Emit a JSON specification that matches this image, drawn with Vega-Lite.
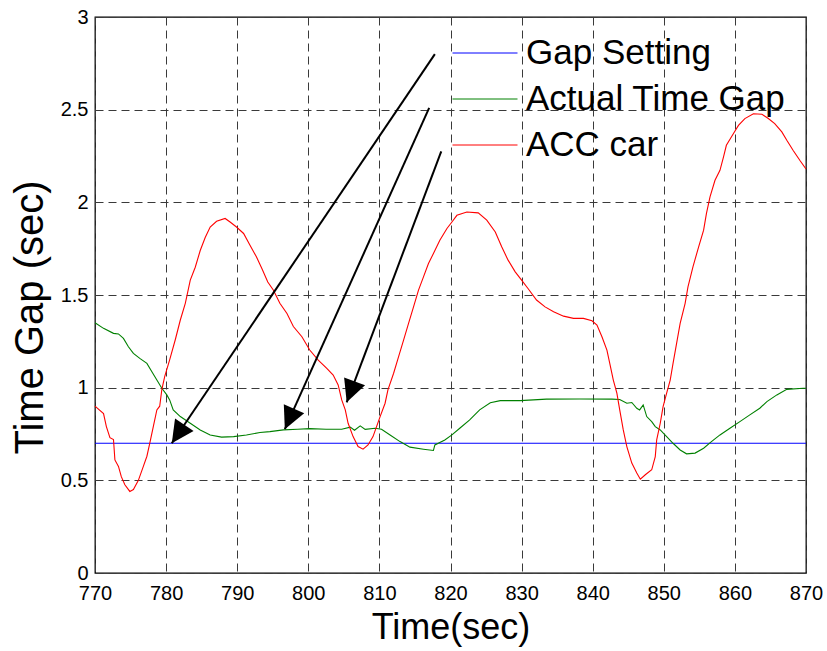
{
  "$schema": "https://vega.github.io/schema/vega-lite/v6.json",
  "width": 711,
  "height": 556,
  "autosize": {"type": "none"},
  "padding": {"left": 95, "top": 17, "right": 21, "bottom": 78},
  "background": "white",
  "config": {
    "view": {"stroke": "black", "strokeWidth": 1.3},
    "font": "Liberation Sans",
    "axis": {
      "grid": true,
      "gridDash": [8, 5],
      "gridColor": "#3a3a3a",
      "gridOpacity": 1,
      "gridWidth": 1,
      "domain": false,
      "ticks": false,
      "labelFont": "Liberation Sans",
      "labelFontSize": 20,
      "labelColor": "black",
      "labelFlush": false,
      "labelOverlap": false,
      "titleFont": "Liberation Sans",
      "titleFontWeight": "normal",
      "titleColor": "black"
    }
  },
  "datasets": {
    "lines": [
      {"s": "Gap Setting", "t": 770, "v": 0.7},
      {"s": "Gap Setting", "t": 870, "v": 0.7},

      {"s": "Actual Time Gap", "t": 770, "v": 1.35},
      {"s": "Actual Time Gap", "t": 771.2, "v": 1.32},
      {"s": "Actual Time Gap", "t": 772.6, "v": 1.293},
      {"s": "Actual Time Gap", "t": 773.3, "v": 1.29},
      {"s": "Actual Time Gap", "t": 774.0, "v": 1.266},
      {"s": "Actual Time Gap", "t": 774.7, "v": 1.221},
      {"s": "Actual Time Gap", "t": 775.4, "v": 1.185},
      {"s": "Actual Time Gap", "t": 776.3, "v": 1.158},
      {"s": "Actual Time Gap", "t": 777.3, "v": 1.131},
      {"s": "Actual Time Gap", "t": 778.0, "v": 1.086},
      {"s": "Actual Time Gap", "t": 778.7, "v": 1.041},
      {"s": "Actual Time Gap", "t": 779.4, "v": 0.997},
      {"s": "Actual Time Gap", "t": 780.1, "v": 0.961},
      {"s": "Actual Time Gap", "t": 780.5, "v": 0.934},
      {"s": "Actual Time Gap", "t": 781.0, "v": 0.88},
      {"s": "Actual Time Gap", "t": 782.0, "v": 0.844},
      {"s": "Actual Time Gap", "t": 783.4, "v": 0.808},
      {"s": "Actual Time Gap", "t": 784.8, "v": 0.772},
      {"s": "Actual Time Gap", "t": 786.2, "v": 0.745},
      {"s": "Actual Time Gap", "t": 787.8, "v": 0.733},
      {"s": "Actual Time Gap", "t": 789.5, "v": 0.736},
      {"s": "Actual Time Gap", "t": 791.3, "v": 0.745},
      {"s": "Actual Time Gap", "t": 793.2, "v": 0.758},
      {"s": "Actual Time Gap", "t": 794.6, "v": 0.763},
      {"s": "Actual Time Gap", "t": 796.5, "v": 0.772},
      {"s": "Actual Time Gap", "t": 798.5, "v": 0.776},
      {"s": "Actual Time Gap", "t": 800.2, "v": 0.779},
      {"s": "Actual Time Gap", "t": 802.5, "v": 0.776},
      {"s": "Actual Time Gap", "t": 804.7, "v": 0.776},
      {"s": "Actual Time Gap", "t": 805.9, "v": 0.787},
      {"s": "Actual Time Gap", "t": 806.5, "v": 0.77},
      {"s": "Actual Time Gap", "t": 807.3, "v": 0.794},
      {"s": "Actual Time Gap", "t": 808.0, "v": 0.775},
      {"s": "Actual Time Gap", "t": 809.4, "v": 0.781},
      {"s": "Actual Time Gap", "t": 810.3, "v": 0.776},
      {"s": "Actual Time Gap", "t": 811.5, "v": 0.745},
      {"s": "Actual Time Gap", "t": 812.9, "v": 0.709},
      {"s": "Actual Time Gap", "t": 814.3, "v": 0.679},
      {"s": "Actual Time Gap", "t": 816.2, "v": 0.668},
      {"s": "Actual Time Gap", "t": 817.6, "v": 0.661},
      {"s": "Actual Time Gap", "t": 817.8, "v": 0.691},
      {"s": "Actual Time Gap", "t": 819.2, "v": 0.718},
      {"s": "Actual Time Gap", "t": 820.2, "v": 0.745},
      {"s": "Actual Time Gap", "t": 821.3, "v": 0.781},
      {"s": "Actual Time Gap", "t": 822.7, "v": 0.826},
      {"s": "Actual Time Gap", "t": 824.1, "v": 0.88},
      {"s": "Actual Time Gap", "t": 825.6, "v": 0.919},
      {"s": "Actual Time Gap", "t": 827.0, "v": 0.93},
      {"s": "Actual Time Gap", "t": 829.8, "v": 0.93},
      {"s": "Actual Time Gap", "t": 833.5, "v": 0.938},
      {"s": "Actual Time Gap", "t": 838.2, "v": 0.939},
      {"s": "Actual Time Gap", "t": 842.7, "v": 0.938},
      {"s": "Actual Time Gap", "t": 843.8, "v": 0.936},
      {"s": "Actual Time Gap", "t": 844.8, "v": 0.916},
      {"s": "Actual Time Gap", "t": 845.5, "v": 0.92},
      {"s": "Actual Time Gap", "t": 846.2, "v": 0.889},
      {"s": "Actual Time Gap", "t": 846.6, "v": 0.88},
      {"s": "Actual Time Gap", "t": 847.1, "v": 0.907},
      {"s": "Actual Time Gap", "t": 847.6, "v": 0.844},
      {"s": "Actual Time Gap", "t": 848.3, "v": 0.817},
      {"s": "Actual Time Gap", "t": 848.8, "v": 0.79},
      {"s": "Actual Time Gap", "t": 849.5, "v": 0.772},
      {"s": "Actual Time Gap", "t": 850.4, "v": 0.736},
      {"s": "Actual Time Gap", "t": 851.3, "v": 0.70},
      {"s": "Actual Time Gap", "t": 852.3, "v": 0.664},
      {"s": "Actual Time Gap", "t": 853.2, "v": 0.643},
      {"s": "Actual Time Gap", "t": 854.4, "v": 0.647},
      {"s": "Actual Time Gap", "t": 855.6, "v": 0.673},
      {"s": "Actual Time Gap", "t": 856.7, "v": 0.709},
      {"s": "Actual Time Gap", "t": 857.9, "v": 0.745},
      {"s": "Actual Time Gap", "t": 859.3, "v": 0.781},
      {"s": "Actual Time Gap", "t": 860.7, "v": 0.817},
      {"s": "Actual Time Gap", "t": 862.1, "v": 0.853},
      {"s": "Actual Time Gap", "t": 863.5, "v": 0.889},
      {"s": "Actual Time Gap", "t": 864.5, "v": 0.925},
      {"s": "Actual Time Gap", "t": 865.9, "v": 0.961},
      {"s": "Actual Time Gap", "t": 867.3, "v": 0.991},
      {"s": "Actual Time Gap", "t": 869.6, "v": 0.997},
      {"s": "Actual Time Gap", "t": 870, "v": 0.997},

      {"s": "ACC car", "t": 770, "v": 0.90},
      {"s": "ACC car", "t": 771.2, "v": 0.86},
      {"s": "ACC car", "t": 771.6, "v": 0.79},
      {"s": "ACC car", "t": 772.1, "v": 0.73},
      {"s": "ACC car", "t": 772.6, "v": 0.72},
      {"s": "ACC car", "t": 772.8, "v": 0.61},
      {"s": "ACC car", "t": 773.3, "v": 0.575},
      {"s": "ACC car", "t": 773.7, "v": 0.52},
      {"s": "ACC car", "t": 774.2, "v": 0.476},
      {"s": "ACC car", "t": 774.9, "v": 0.44},
      {"s": "ACC car", "t": 775.4, "v": 0.45},
      {"s": "ACC car", "t": 776.1, "v": 0.50},
      {"s": "ACC car", "t": 776.8, "v": 0.575},
      {"s": "ACC car", "t": 777.3, "v": 0.63},
      {"s": "ACC car", "t": 777.7, "v": 0.70},
      {"s": "ACC car", "t": 778.2, "v": 0.79},
      {"s": "ACC car", "t": 778.7, "v": 0.88},
      {"s": "ACC car", "t": 779.1, "v": 0.90},
      {"s": "ACC car", "t": 779.4, "v": 0.99},
      {"s": "ACC car", "t": 779.8, "v": 1.06},
      {"s": "ACC car", "t": 780.5, "v": 1.15},
      {"s": "ACC car", "t": 781.3, "v": 1.26},
      {"s": "ACC car", "t": 782.0, "v": 1.365},
      {"s": "ACC car", "t": 782.7, "v": 1.455},
      {"s": "ACC car", "t": 783.4, "v": 1.58},
      {"s": "ACC car", "t": 784.1, "v": 1.65},
      {"s": "ACC car", "t": 784.8, "v": 1.74},
      {"s": "ACC car", "t": 785.5, "v": 1.81},
      {"s": "ACC car", "t": 786.2, "v": 1.867},
      {"s": "ACC car", "t": 787.1, "v": 1.898},
      {"s": "ACC car", "t": 788.3, "v": 1.913},
      {"s": "ACC car", "t": 789.0, "v": 1.894},
      {"s": "ACC car", "t": 789.9, "v": 1.867},
      {"s": "ACC car", "t": 790.9, "v": 1.832},
      {"s": "ACC car", "t": 791.8, "v": 1.769},
      {"s": "ACC car", "t": 792.7, "v": 1.706},
      {"s": "ACC car", "t": 793.5, "v": 1.64},
      {"s": "ACC car", "t": 794.3, "v": 1.57},
      {"s": "ACC car", "t": 795.1, "v": 1.526},
      {"s": "ACC car", "t": 796.0, "v": 1.455},
      {"s": "ACC car", "t": 797.0, "v": 1.40},
      {"s": "ACC car", "t": 797.9, "v": 1.33},
      {"s": "ACC car", "t": 799.1, "v": 1.275},
      {"s": "ACC car", "t": 800.2, "v": 1.203},
      {"s": "ACC car", "t": 801.4, "v": 1.149},
      {"s": "ACC car", "t": 802.6, "v": 1.104},
      {"s": "ACC car", "t": 803.5, "v": 1.068},
      {"s": "ACC car", "t": 804.2, "v": 1.015},
      {"s": "ACC car", "t": 804.7, "v": 0.934},
      {"s": "ACC car", "t": 805.2, "v": 0.88},
      {"s": "ACC car", "t": 805.6, "v": 0.808},
      {"s": "ACC car", "t": 806.3, "v": 0.736},
      {"s": "ACC car", "t": 807.0, "v": 0.682},
      {"s": "ACC car", "t": 807.7, "v": 0.668},
      {"s": "ACC car", "t": 808.4, "v": 0.691},
      {"s": "ACC car", "t": 809.1, "v": 0.736},
      {"s": "ACC car", "t": 809.6, "v": 0.79},
      {"s": "ACC car", "t": 810.1, "v": 0.844},
      {"s": "ACC car", "t": 810.8, "v": 0.916},
      {"s": "ACC car", "t": 811.2, "v": 0.988},
      {"s": "ACC car", "t": 812.0, "v": 1.078},
      {"s": "ACC car", "t": 812.7, "v": 1.167},
      {"s": "ACC car", "t": 813.4, "v": 1.257},
      {"s": "ACC car", "t": 814.1, "v": 1.347},
      {"s": "ACC car", "t": 814.8, "v": 1.436},
      {"s": "ACC car", "t": 815.5, "v": 1.526},
      {"s": "ACC car", "t": 816.2, "v": 1.598},
      {"s": "ACC car", "t": 816.9, "v": 1.67},
      {"s": "ACC car", "t": 817.6, "v": 1.724},
      {"s": "ACC car", "t": 818.5, "v": 1.796},
      {"s": "ACC car", "t": 819.5, "v": 1.859},
      {"s": "ACC car", "t": 820.2, "v": 1.894},
      {"s": "ACC car", "t": 820.9, "v": 1.93},
      {"s": "ACC car", "t": 822.3, "v": 1.948},
      {"s": "ACC car", "t": 823.9, "v": 1.943},
      {"s": "ACC car", "t": 825.1, "v": 1.904},
      {"s": "ACC car", "t": 826.3, "v": 1.84},
      {"s": "ACC car", "t": 827.2, "v": 1.76},
      {"s": "ACC car", "t": 828.1, "v": 1.688},
      {"s": "ACC car", "t": 829.1, "v": 1.625},
      {"s": "ACC car", "t": 830.0, "v": 1.58},
      {"s": "ACC car", "t": 830.9, "v": 1.535},
      {"s": "ACC car", "t": 832.1, "v": 1.473},
      {"s": "ACC car", "t": 833.3, "v": 1.436},
      {"s": "ACC car", "t": 834.5, "v": 1.41},
      {"s": "ACC car", "t": 835.9, "v": 1.386},
      {"s": "ACC car", "t": 837.3, "v": 1.374},
      {"s": "ACC car", "t": 838.7, "v": 1.374},
      {"s": "ACC car", "t": 839.9, "v": 1.361},
      {"s": "ACC car", "t": 840.6, "v": 1.338},
      {"s": "ACC car", "t": 841.3, "v": 1.275},
      {"s": "ACC car", "t": 842.0, "v": 1.203},
      {"s": "ACC car", "t": 842.4, "v": 1.131},
      {"s": "ACC car", "t": 842.9, "v": 1.041},
      {"s": "ACC car", "t": 843.4, "v": 0.97},
      {"s": "ACC car", "t": 843.8, "v": 0.88},
      {"s": "ACC car", "t": 844.3, "v": 0.772},
      {"s": "ACC car", "t": 844.8, "v": 0.682},
      {"s": "ACC car", "t": 845.5, "v": 0.593},
      {"s": "ACC car", "t": 846.2, "v": 0.539},
      {"s": "ACC car", "t": 846.7, "v": 0.506},
      {"s": "ACC car", "t": 847.4, "v": 0.53},
      {"s": "ACC car", "t": 848.3, "v": 0.557},
      {"s": "ACC car", "t": 848.8, "v": 0.628},
      {"s": "ACC car", "t": 849.0, "v": 0.718},
      {"s": "ACC car", "t": 849.5, "v": 0.808},
      {"s": "ACC car", "t": 849.9, "v": 0.898},
      {"s": "ACC car", "t": 850.4, "v": 0.97},
      {"s": "ACC car", "t": 850.9, "v": 1.041},
      {"s": "ACC car", "t": 851.3, "v": 1.131},
      {"s": "ACC car", "t": 851.8, "v": 1.239},
      {"s": "ACC car", "t": 852.3, "v": 1.347},
      {"s": "ACC car", "t": 853.0, "v": 1.455},
      {"s": "ACC car", "t": 853.4, "v": 1.544},
      {"s": "ACC car", "t": 854.1, "v": 1.652},
      {"s": "ACC car", "t": 854.9, "v": 1.76},
      {"s": "ACC car", "t": 855.6, "v": 1.85},
      {"s": "ACC car", "t": 856.0, "v": 1.94},
      {"s": "ACC car", "t": 856.5, "v": 2.029},
      {"s": "ACC car", "t": 857.2, "v": 2.119},
      {"s": "ACC car", "t": 857.9, "v": 2.173},
      {"s": "ACC car", "t": 858.4, "v": 2.245},
      {"s": "ACC car", "t": 858.8, "v": 2.308},
      {"s": "ACC car", "t": 859.8, "v": 2.371},
      {"s": "ACC car", "t": 860.5, "v": 2.415},
      {"s": "ACC car", "t": 861.4, "v": 2.452},
      {"s": "ACC car", "t": 862.6, "v": 2.478},
      {"s": "ACC car", "t": 863.8, "v": 2.475},
      {"s": "ACC car", "t": 864.7, "v": 2.452},
      {"s": "ACC car", "t": 865.6, "v": 2.425},
      {"s": "ACC car", "t": 866.6, "v": 2.38},
      {"s": "ACC car", "t": 867.3, "v": 2.335},
      {"s": "ACC car", "t": 868.2, "v": 2.28},
      {"s": "ACC car", "t": 869.2, "v": 2.223},
      {"s": "ACC car", "t": 870, "v": 2.18}
    ],
    "arrows": [
      {"t1": 817.8, "v1": 2.80, "t2": 780.8, "v2": 0.70},
      {"t1": 817.0, "v1": 2.51, "t2": 796.7, "v2": 0.776},
      {"t1": 818.7, "v1": 2.275, "t2": 805.4, "v2": 0.921}
    ]
  },
  "layer": [
    {
      "data": {"name": "lines"},
      "mark": {"type": "line", "strokeWidth": 1.1, "interpolate": "linear"},
      "encoding": {
        "x": {
          "field": "t", "type": "quantitative",
          "scale": {"domain": [770, 870], "nice": false, "zero": false},
          "axis": {
            "values": [770, 780, 790, 800, 810, 820, 830, 840, 850, 860, 870],
            "format": "d",
            "title": "Time(sec)",
            "titleFontSize": 36,
            "titleBaseline": "alphabetic",
            "titleY": 65,
            "labelPadding": 10
          }
        },
        "y": {
          "field": "v", "type": "quantitative",
          "scale": {"domain": [0, 3], "nice": false},
          "axis": {
            "values": [0, 0.5, 1, 1.5, 2, 2.5, 3],
            "format": ".1~f",
            "title": "Time Gap (sec)",
            "titleFontSize": 40,
            "titleAngle": -90,
            "titleBaseline": "alphabetic",
            "titleAlign": "center",
            "titleX": -53,
            "titleY": 300,
            "labelPadding": 7
          }
        },
        "color": {
          "field": "s", "type": "nominal",
          "scale": {
            "domain": ["Gap Setting", "Actual Time Gap", "ACC car"],
            "range": ["#0000ff", "#008000", "#ff0000"]
          },
          "legend": {
            "title": null,
            "orient": "none",
            "legendX": 357,
            "legendY": 13,
            "symbolType": "stroke",
            "symbolSize": 4225,
            "symbolStrokeWidth": 1,
            "labelFontSize": 35,
            "labelFont": "Liberation Sans",
            "labelColor": "black",
            "labelLimit": 0,
            "clipHeight": 46,
            "rowPadding": 0,
            "padding": 0,
            "labelOffset": 8
          }
        }
      }
    },
    {
      "data": {"name": "arrows"},
      "mark": {"type": "rule", "color": "black", "strokeWidth": 2},
      "encoding": {
        "x": {"field": "t1", "type": "quantitative"},
        "y": {"field": "v1", "type": "quantitative"},
        "x2": {"field": "t2"},
        "y2": {"field": "v2"}
      }
    },
    {
      "data": {"name": "arrows"},
      "transform": [
        {"calculate": "(atan2((datum.t2 - datum.t1) * 7.11, (datum.v2 - datum.v1) * 185.33) * 180 / PI + 360) % 360", "as": "ang"}
      ],
      "mark": {"type": "point", "shape": "M0,0L-0.5,1L0.5,1Z", "filled": true, "color": "black", "opacity": 1, "size": 2000, "strokeWidth": 0},
      "encoding": {
        "x": {"field": "t2", "type": "quantitative"},
        "y": {"field": "v2", "type": "quantitative"},
        "angle": {"field": "ang", "type": "quantitative", "scale": null}
      }
    }
  ]
}
